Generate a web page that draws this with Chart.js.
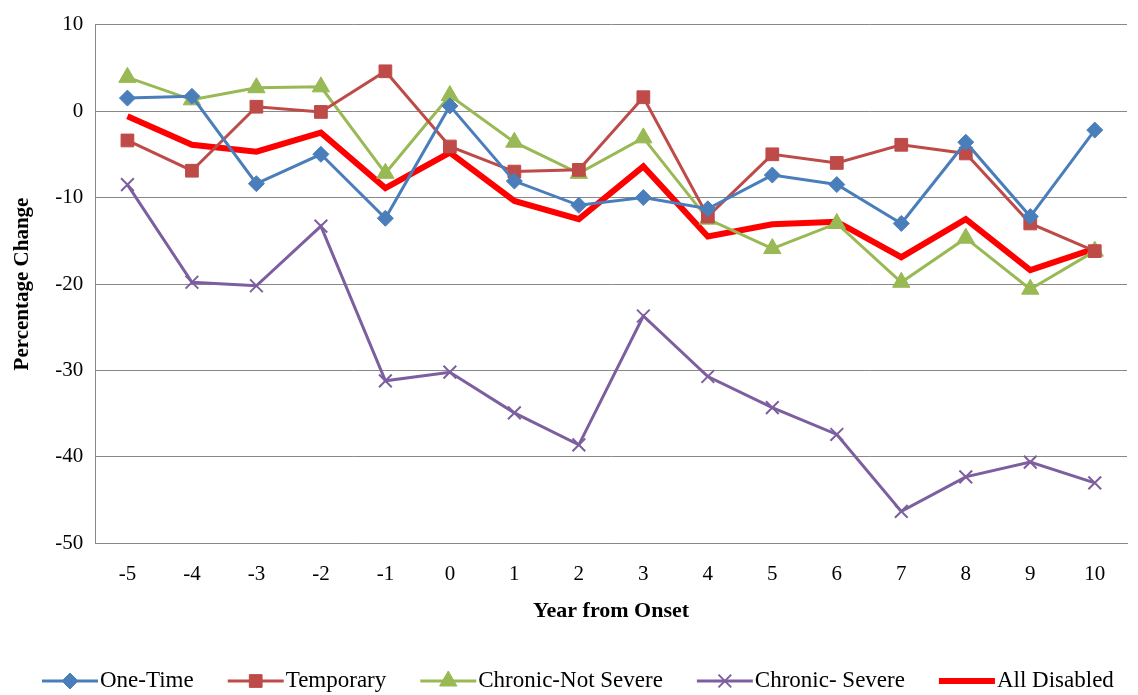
<!DOCTYPE html>
<html>
<head>
<meta charset="utf-8">
<script src="https://cdn.jsdelivr.net/npm/chart.js@4"></script>
<style>
  html, body { margin: 0; padding: 0; background: #fff; }
  #wrap { width: 1138px; height: 695px; position: relative; }
</style>
</head>
<body>
<div id="wrap"><canvas id="chart"></canvas></div>
<script>
// data
const years = ['-5', '-4', '-3', '-2', '-1', '0', '1', '2', '3', '4', '5', '6', '7', '8', '9', '10'];
const oneTime = [1.5, 1.7, -8.4, -5, -12.4, 0.6, -8.1, -10.9, -10, -11.3, -7.4, -8.5, -13, -3.6, -12.2, -2.2];
const temporary = [-3.4, -6.9, 0.5, -0.1, 4.6, -4.1, -7, -6.8, 1.6, -12.2, -5, -6, -3.9, -4.9, -13, -16.2];
const chronicNotSevere = [3.9, 1.3, 2.7, 2.8, -7.2, 1.8, -3.6, -7.2, -3.1, -12.5, -15.9, -13, -19.8, -14.7, -20.6, -16.2];
const chronicSevere = [-8.5, -19.8, -20.2, -13.3, -31.2, -30.2, -34.9, -38.6, -23.7, -30.7, -34.3, -37.4, -46.3, -42.3, -40.6, -43];
const allDisabled = [-0.6, -3.9, -4.7, -2.5, -8.9, -4.8, -10.4, -12.5, -6.4, -14.5, -13.1, -12.8, -16.9, -12.5, -18.4, -15.9];

const font = 'Liberation Serif';

function series(label, data, color, style, radius, width) {
    return {
        label: label,
        data: data,
        borderColor: color,
        backgroundColor: color,
        pointStyle: style,
        pointRadius: radius,
        pointBorderColor: color,
        pointBorderWidth: style === 'crossRot' ? 2 : 1,
        borderWidth: width,
        tension: 0
    };
}

// legend drawn as line + marker, like the original
const lineLegend = {
    id: 'lineLegend',
    afterDraw(chart) {
        const ctx = chart.ctx;
        const y = 681;
        let x = 42;
        ctx.save();
        ctx.font = '23px ' + font;
        ctx.textBaseline = 'middle';
        chart.data.datasets.forEach(ds => {
            ctx.strokeStyle = ds.borderColor;
            ctx.lineWidth = ds.borderWidth;
            ctx.beginPath();
            ctx.moveTo(x, y);
            ctx.lineTo(x + 56, y);
            ctx.stroke();
            if (ds.pointStyle) {
                ctx.fillStyle = ds.backgroundColor;
                ctx.strokeStyle = ds.borderColor;
                ctx.lineWidth = ds.pointBorderWidth;
                Chart.helpers.drawPoint(ctx, {
                    pointStyle: ds.pointStyle,
                    radius: ds.pointRadius,
                    borderWidth: ds.pointBorderWidth
                }, x + 28, y);
            }
            ctx.fillStyle = '#000';
            ctx.fillText(ds.label, x + 58, y);
            x += 58 + ctx.measureText(ds.label).width + 34;
        });
        ctx.restore();
    }
};

new Chart(document.getElementById('chart').getContext('2d'), {
    type: 'line',
    data: {
        labels: years,
        datasets: [
            series('One-Time', oneTime, '#4a7ebb', 'rectRot', 8, 3),
            series('Temporary', temporary, '#be4b48', 'rect', 9, 3),
            series('Chronic-Not Severe', chronicNotSevere, '#98b954', 'triangle', 10, 3),
            series('Chronic- Severe', chronicSevere, '#7d5fa0', 'crossRot', 9, 3),
            series('All Disabled', allDisabled, '#ff0000', false, 0, 6)
        ]
    },
    plugins: [lineLegend],
    options: {
        responsive: true,
        maintainAspectRatio: false,
        animation: false,
        layout: { padding: { left: 10, right: 0, top: -6, bottom: 70 } },
        plugins: {
            legend: { display: false },
            tooltip: { enabled: false }
        },
        scales: {
            y: {
                min: -50,
                max: 10,
                ticks: { stepSize: 10, color: '#000', padding: 12, font: { family: font, size: 21 } },
                grid: { color: '#888', drawTicks: false },
                border: { display: true, color: '#888' },
                title: { display: true, text: 'Percentage Change', color: '#000', padding: { top: 0, bottom: 8 }, font: { family: font, size: 21, weight: 'bold' } }
            },
            x: {
                offset: true,
                ticks: { color: '#000', padding: 10, font: { family: font, size: 21 } },
                grid: { display: false },
                border: { color: '#888' },
                title: { display: true, text: 'Year from Onset', color: '#000', font: { family: font, size: 22, weight: 'bold' }, padding: { top: 2, bottom: 0 } }
            }
        }
    }
});
</script>
</body>
</html>
